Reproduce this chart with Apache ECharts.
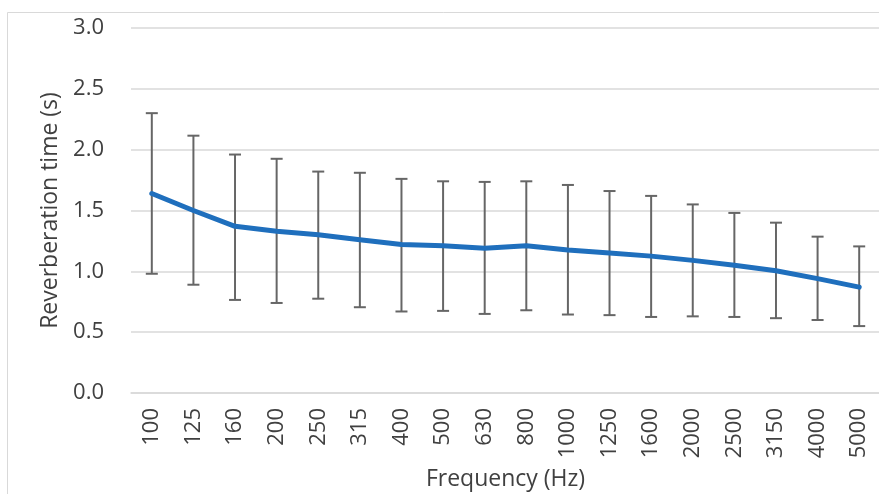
<!DOCTYPE html>
<html>
<head>
<meta charset="utf-8">
<script src="https://cdn.jsdelivr.net/npm/echarts@6/dist/echarts.min.js"></script>
<style>
  html, body { margin: 0; padding: 0; background: #fff; }
  #chart { width: 879px; height: 494px; }
</style>
</head>
<body>
<div id="chart"></div>
<script>
var frequencies = ['100', '125', '160', '200', '250', '315', '400', '500', '630', '800',
  '1000', '1250', '1600', '2000', '2500', '3150', '4000', '5000'];
var meanValues = [1.64, 1.50, 1.37, 1.33, 1.30, 1.26, 1.22, 1.21, 1.19, 1.21,
  1.175, 1.15, 1.125, 1.09, 1.05, 1.005, 0.94, 0.87];
var upperValues = [2.30, 2.115, 1.96, 1.925, 1.82, 1.81, 1.76, 1.74, 1.735, 1.74,
  1.71, 1.66, 1.62, 1.55, 1.48, 1.40, 1.285, 1.205];
var lowerValues = [0.98, 0.89, 0.765, 0.74, 0.775, 0.705, 0.67, 0.675, 0.65, 0.68,
  0.645, 0.64, 0.625, 0.63, 0.625, 0.615, 0.60, 0.55];

var textColor = '#404040';
var fontName = 'Open Sans';

var errorData = frequencies.map(function(f, i) {
  return [i, lowerValues[i], upperValues[i]];
});

var chart = echarts.init(document.getElementById('chart'));

chart.setOption({
  animation: false,
  backgroundColor: '#fff',
  graphic: [{
    type: 'rect',
    shape: { x: 7.5, y: 12.5, width: 890, height: 500 },
    style: { fill: 'none', stroke: '#d9d9d9', lineWidth: 1 },
    silent: true
  }],
  grid: { left: 131, right: -1, top: 28, bottom: 101, outerBoundsMode: 'none' },
  xAxis: {
    type: 'category',
    data: frequencies,
    boundaryGap: true,
    name: 'Frequency (Hz)',
    nameLocation: 'middle',
    nameGap: 75,
    nameTextStyle: { color: textColor, fontSize: 23, fontFamily: fontName },
    axisLine: { lineStyle: { color: '#d9d9d9', width: 1.5 } },
    axisTick: { show: false },
    axisLabel: {
      rotate: 90,
      color: textColor,
      fontSize: 22,
      fontFamily: fontName,
      margin: 15,
      interval: 0
    }
  },
  yAxis: {
    type: 'value',
    min: 0,
    max: 3,
    interval: 0.5,
    name: 'Reverberation time (s)',
    nameLocation: 'middle',
    nameGap: 68,
    nameTextStyle: { color: textColor, fontSize: 23, fontFamily: fontName },
    axisLine: { show: false },
    axisTick: { show: false },
    axisLabel: {
      color: textColor,
      fontSize: 22,
      fontFamily: fontName,
      margin: 27,
      formatter: function(v) { return v.toFixed(1); }
    },
    splitLine: { lineStyle: { color: '#d9d9d9', width: 1.5 } }
  },
  series: [
    {
      type: 'custom',
      name: 'error',
      data: errorData,
      z: 2,
      renderItem: function(params, api) {
        var x = api.value(0);
        var lo = api.coord([x, api.value(1)]);
        var hi = api.coord([x, api.value(2)]);
        var half = 6;
        var style = { stroke: '#666666', lineWidth: 2 };
        return {
          type: 'group',
          children: [
            { type: 'line', shape: { x1: hi[0], y1: hi[1], x2: lo[0], y2: lo[1] }, style: style },
            { type: 'line', shape: { x1: hi[0] - half, y1: hi[1], x2: hi[0] + half, y2: hi[1] }, style: style },
            { type: 'line', shape: { x1: lo[0] - half, y1: lo[1], x2: lo[0] + half, y2: lo[1] }, style: style }
          ]
        };
      }
    },
    {
      type: 'line',
      name: 'mean',
      data: meanValues,
      z: 3,
      symbol: 'none',
      lineStyle: { color: '#1f6fbd', width: 5, cap: 'round', join: 'round' }
    }
  ]
});
</script>
</body>
</html>
